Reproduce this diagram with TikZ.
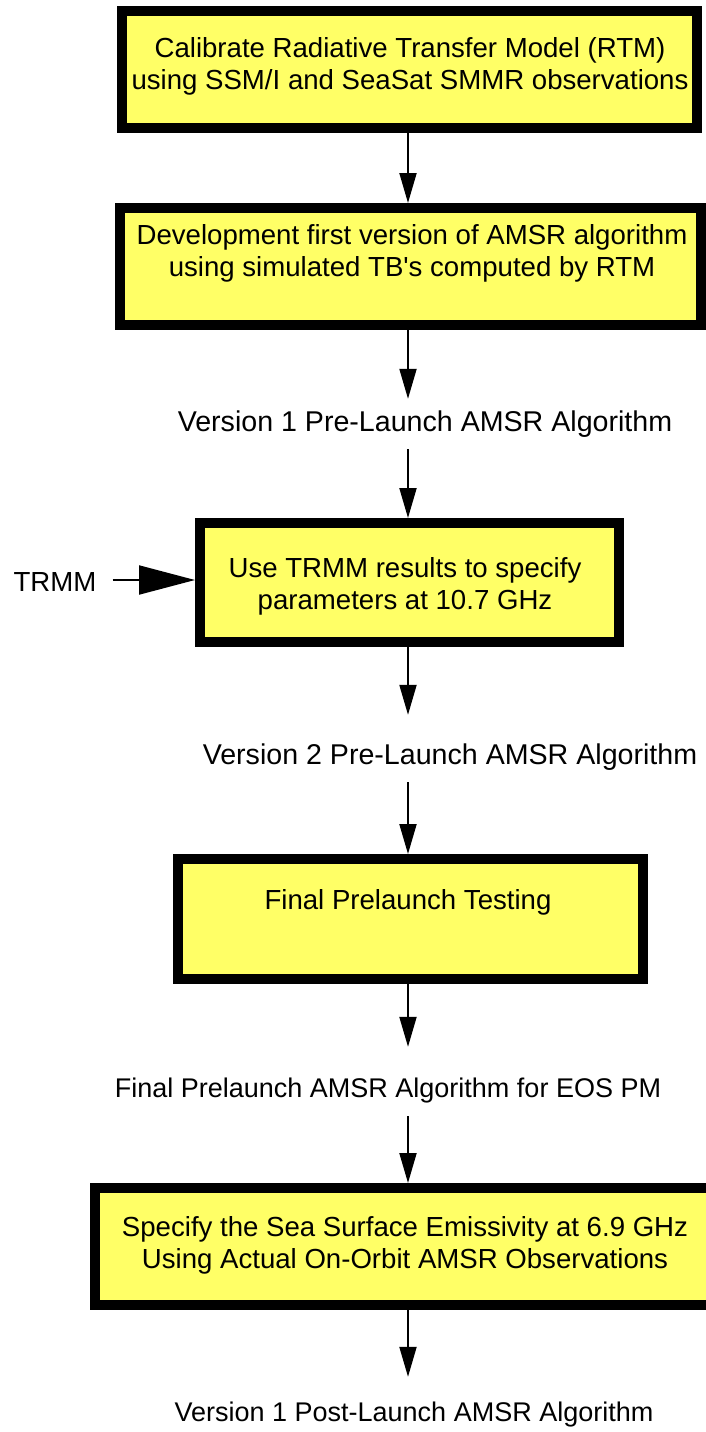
\documentclass[tikz,border=0pt]{standalone}
\usepackage{fontspec}
\setmainfont{Liberation Sans}[Ligatures=TeXOff]
\usetikzlibrary{arrows.meta}
\definecolor{boxyellow}{HTML}{FFFF66}
\begin{document}
\begin{tikzpicture}[x=1pt,y=1pt,
  stagebox/.style={draw=black,line width=10pt,fill=boxyellow,rectangle,inner sep=0pt},
  boxtext/.style={align=center,font=\fontsize{27.6}{32}\selectfont,inner sep=0pt},
  outlabel/.style={font=\fontsize{28.6}{32}\selectfont,inner sep=0pt,minimum height=50pt},
  smalllabel/.style={outlabel,font=\fontsize{27}{32}\selectfont},
  flow/.style={line width=2pt,-{Triangle[length=30pt,width=17pt]}},
  bigflow/.style={line width=2pt,-{Triangle[length=56pt,width=29pt]}}]
\useasboundingbox (0,0) rectangle (706,-1432);
% boxes
\node[stagebox,minimum width=575pt,minimum height=117pt] (b1) at (409.5,-69.5) {};
\node[stagebox,minimum width=581pt,minimum height=117pt] (b2) at (410.5,-266.5) {};
\node[stagebox,minimum width=419pt,minimum height=119pt] (b3) at (409.5,-582.5) {};
\node[stagebox,minimum width=465pt,minimum height=120pt] (b4) at (410.5,-919) {};
\node[stagebox,minimum width=630pt,minimum height=117pt] (b5) at (410,-1246.5) {};
% box texts
\node[boxtext] (t1) at (410,-66) {Calibrate Radiative Transfer Model (RTM)\\using SSM/I and SeaSat SMMR observations};
\node[boxtext] (t2) at (412,-253) {Development first version of AMSR algorithm\\using simulated TB's computed by RTM};
\node[boxtext] (t3) at (405,-586) {Use TRMM results to specify\\parameters at 10.7 GHz};
\node[boxtext] (t4) at (408,-902) {Final Prelaunch Testing};
\node[boxtext] (t5) at (405,-1245) {Specify the Sea Surface Emissivity at 6.9 GHz\\Using Actual On-Orbit AMSR Observations};
% outside labels
\node[outlabel] (l1) at (425,-424) {Version 1 Pre-Launch AMSR Algorithm};
\node[outlabel] (l2) at (450,-757) {Version 2 Pre-Launch AMSR Algorithm};
\node[smalllabel] (l3) at (388,-1091) {Final Prelaunch AMSR Algorithm for EOS PM};
\node[smalllabel] (l4) at (414,-1415) {Version 1 Post-Launch AMSR Algorithm};
\node[boxtext,inner xsep=16pt] (trmm) at (55,-582) {TRMM};
% connectors
\draw[flow] (b1.south -| 408,0) -- (b2.north -| 408,0);
\draw[flow] (b2.south -| 408,0) -- (l1.north -| 408,0);
\draw[flow] (l1.south -| 408,0) -- (b3.north -| 408,0);
\draw[flow,shorten >=17pt] (b3.south -| 408,0) -- (l2.north -| 408,0);
\draw[flow] (l2.south -| 408,0) -- (b4.north -| 408,0);
\draw[flow,shorten >=19pt] (b4.south -| 408,0) -- (l3.north -| 408,0);
\draw[flow] (l3.south -| 408,0) -- (b5.north -| 408,0);
\draw[flow,shorten >=13pt] (b5.south -| 408,0) -- (l4.north -| 408,0);
\draw[bigflow] (trmm.east |- 0,-580) -- (b3.west |- 0,-580);
\end{tikzpicture}
\end{document}
